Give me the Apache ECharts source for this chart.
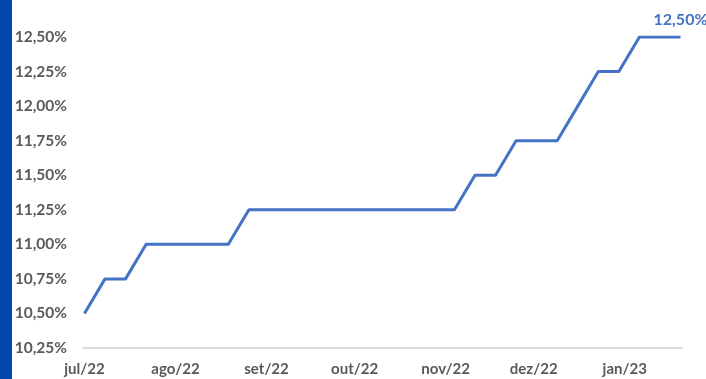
<!DOCTYPE html>
<html>
<head>
<meta charset="utf-8">
<script src="https://cdn.jsdelivr.net/npm/echarts@6/dist/echarts.min.js"></script>
<style>
  html, body { margin: 0; padding: 0; background: #ffffff; }
  #chart { width: 706px; height: 379px; }
</style>
</head>
<body>
<div id="chart"></div>
<script>
// Weekly Selic expectation, July 2022 to January 2023
const weekStart = [2022, 6, 1];      // first survey week (year, month index, day)
const weekCount = 30;
const selicValues = [
  10.50, 10.75, 10.75, 11.00, 11.00, 11.00, 11.00, 11.00,
  11.25, 11.25, 11.25, 11.25, 11.25, 11.25, 11.25, 11.25, 11.25, 11.25, 11.25,
  11.50, 11.50, 11.75, 11.75, 11.75, 12.00, 12.25, 12.25, 12.50, 12.50, 12.50
];
const monthNames = ['jan', 'fev', 'mar', 'abr', 'mai', 'jun', 'jul', 'ago', 'set', 'out', 'nov', 'dez'];
const yTicks = { min: 10.25, max: 12.5, step: 0.25 };

const DAY = 86400000;
const weekDates = [];
for (let i = 0; i < weekCount; i++) {
  weekDates.push(new Date(weekStart[0], weekStart[1], weekStart[2] + 7 * i).getTime());
}

const lastIdx = selicValues.length - 1;
const seriesData = selicValues.map((v, i) => [weekDates[i], v]);

const pct = v => v.toFixed(2).replace('.', ',') + '%';

const chart = echarts.init(document.getElementById('chart'), null, { renderer: 'canvas' });
chart.setOption({
  animation: false,
  backgroundColor: '#ffffff',
  grid: { left: 83, right: 24, top: 37, bottom: 31, containLabel: false },
  graphic: [{
    type: 'rect',
    left: 0, top: 0,
    shape: { width: 12, height: 379 },
    style: { fill: '#0446ad' },
    z: 10
  }],
  xAxis: {
    type: 'time',
    min: weekDates[0] - DAY / 2,
    max: weekDates[lastIdx] + DAY / 2,
    splitNumber: 7,
    minInterval: 28 * DAY,
    maxInterval: 31 * DAY,
    axisLine: { show: true, lineStyle: { color: '#d9d9d9', width: 2 } },
    axisTick: { show: false },
    splitLine: { show: false },
    axisLabel: {
      color: '#595959',
      fontFamily: 'Lato',
      fontWeight: 'bold',
      fontSize: 15,
      margin: 14,
      hideOverlap: false,
      formatter: function (value) {
        const d = new Date(value);
        return monthNames[d.getMonth()] + '/' + String(d.getFullYear()).slice(2);
      }
    }
  },
  yAxis: {
    type: 'value',
    min: yTicks.min,
    max: yTicks.max,
    interval: yTicks.step,
    axisLine: { show: false },
    axisTick: { show: false },
    splitLine: { show: false },
    axisLabel: {
      color: '#595959',
      fontFamily: 'Lato',
      fontWeight: 'bold',
      fontSize: 15.5,
      margin: 16,
      formatter: pct
    }
  },
  series: [{
    type: 'line',
    data: seriesData,
    symbol: 'none',
    showSymbol: false,
    lineStyle: { color: '#4472c4', width: 3, join: 'round' },
    itemStyle: { color: '#4472c4' },
    endLabel: {
      show: true,
      distance: 0,
      align: 'center',
      verticalAlign: 'bottom',
      offset: [0, -9],
      color: '#4472c4',
      fontFamily: 'Lato',
      fontWeight: 'bold',
      fontSize: 16,
      formatter: p => pct(p.value[1])
    }
  }]
});
</script>
</body>
</html>
